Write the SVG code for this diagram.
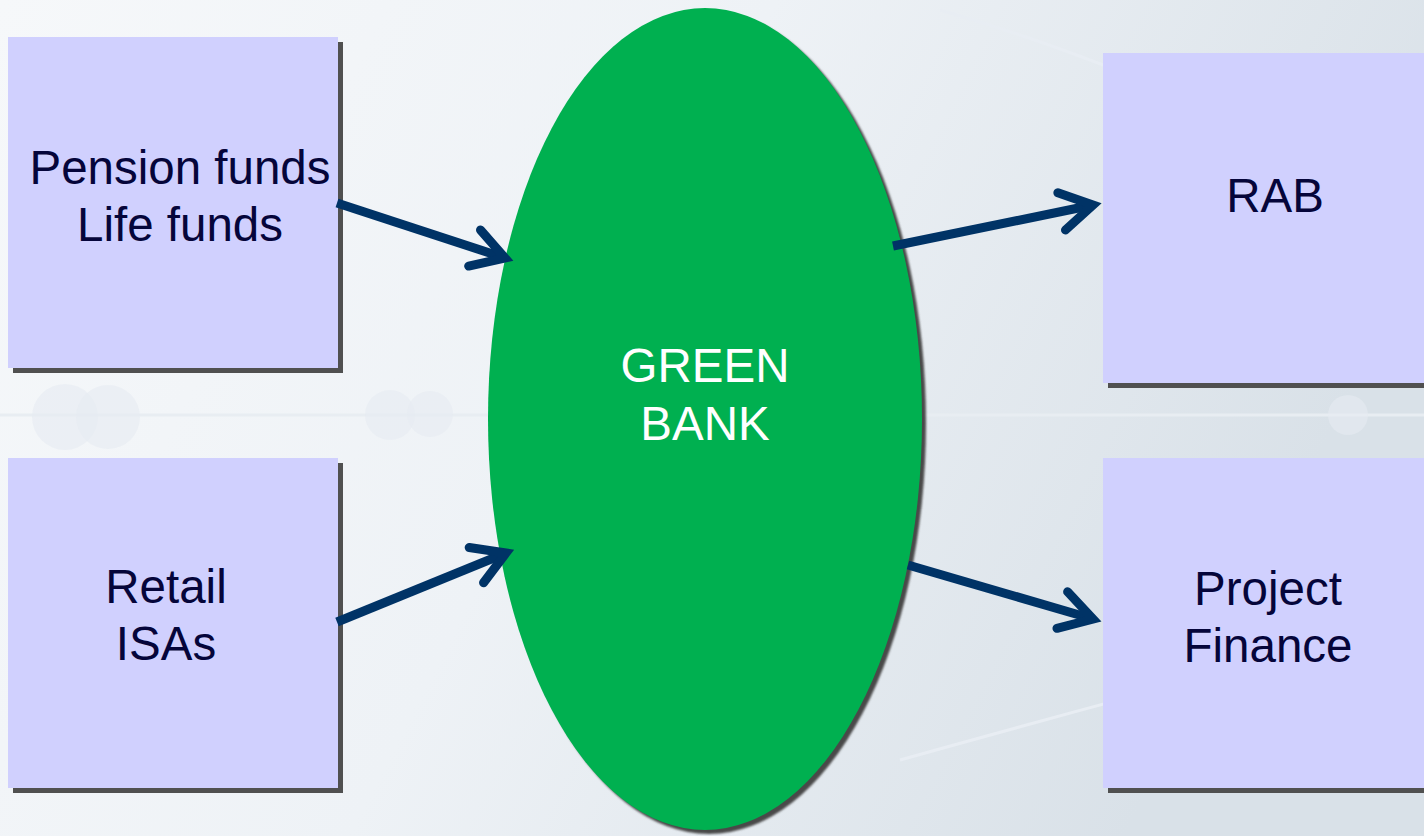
<svg xmlns="http://www.w3.org/2000/svg" width="1424" height="836" viewBox="0 0 1424 836">
  <defs>
    <linearGradient id="bg" x1="0" y1="0" x2="1" y2="0.3">
      <stop offset="0" stop-color="#f6f8fa"/>
      <stop offset="0.5" stop-color="#eef2f6"/>
      <stop offset="1" stop-color="#d9e1e8"/>
    </linearGradient>
    <filter id="soft" x="-5%" y="-5%" width="110%" height="110%">
      <feGaussianBlur stdDeviation="1.2"/>
    </filter>
    <marker id="head" markerUnits="userSpaceOnUse" orient="auto" refX="0" refY="0" markerWidth="60" markerHeight="60" viewBox="-40 -30 60 60" overflow="visible">
      <path d="M-32,-19 L0,0 L-32,19" class="chev"/>
    </marker>
  </defs>
  <style>
    .box { fill: #d0d0fe; }
    .shadow { fill: #505050; }
    .lbl { font-family: "Liberation Sans", Arial, sans-serif; font-size: 47.5px; fill: #05053a; text-anchor: middle; }
    .white { fill: #ffffff; }
    .conn { stroke: #003366; stroke-width: 9; fill: none; }
    .chev { stroke: #003366; stroke-width: 9; fill: none; stroke-linecap: round; stroke-linejoin: miter; stroke-miterlimit: 10; }
    .deco { fill: #e6ebf1; opacity: 0.6; }
  </style>

  <rect x="0" y="0" width="1424" height="836" fill="url(#bg)"/>
  <g id="background-decoration">
    <line x1="0" y1="415" x2="1424" y2="415" stroke="#e8edf2" stroke-width="3"/>
    <circle cx="65" cy="417" r="33" class="deco" opacity="0.35"/>
    <circle cx="108" cy="417" r="32" class="deco"/>
    <circle cx="390" cy="415" r="25" class="deco" opacity="0.35"/>
    <circle cx="430" cy="414" r="23" class="deco"/>
    <circle cx="1348" cy="415" r="20" class="deco"/>
    <path d="M940,10 Q1150,70 1424,210" stroke="#e8edf3" stroke-width="3" fill="none"/>
    <path d="M900,760 Q1150,690 1424,620" stroke="#e8edf3" stroke-width="3" fill="none"/>
  </g>

  <g id="node-pension">
    <rect x="13" y="42" width="330" height="331" class="shadow"/>
    <rect x="8" y="37" width="330" height="331" class="box"/>
    <text x="180" y="184" class="lbl">Pension funds</text>
    <text x="180" y="241" class="lbl">Life funds</text>
  </g>

  <g id="node-retail">
    <rect x="13" y="463" width="330" height="330" class="shadow"/>
    <rect x="8" y="458" width="330" height="330" class="box"/>
    <text x="166" y="603" class="lbl">Retail</text>
    <text x="166" y="660" class="lbl">ISAs</text>
  </g>

  <g id="node-rab">
    <rect x="1108" y="58" width="340" height="330" class="shadow"/>
    <rect x="1103" y="53" width="340" height="330" class="box"/>
    <text x="1275" y="212" class="lbl">RAB</text>
  </g>

  <g id="node-project">
    <rect x="1108" y="463" width="340" height="330" class="shadow"/>
    <rect x="1103" y="458" width="340" height="330" class="box"/>
    <text x="1268" y="605" class="lbl">Project</text>
    <text x="1268" y="662" class="lbl">Finance</text>
  </g>

  <g id="node-greenbank">
    <ellipse cx="709" cy="423" rx="217" ry="411" fill="#4a4a4a" filter="url(#soft)"/>
    <ellipse cx="705" cy="419" rx="217" ry="411" fill="#00b050"/>
    <text x="705" y="382" class="lbl white">GREEN</text>
    <text x="705" y="440" class="lbl white">BANK</text>
  </g>

  <g id="connectors">
    <line x1="337" y1="203" x2="505" y2="258" class="conn" marker-end="url(#head)"/>
    <line x1="337" y1="622" x2="506" y2="553" class="conn" marker-end="url(#head)"/>
    <line x1="893" y1="246" x2="1093" y2="205" class="conn" marker-end="url(#head)"/>
    <line x1="908" y1="565" x2="1093" y2="619" class="conn" marker-end="url(#head)"/>
  </g>
</svg>
